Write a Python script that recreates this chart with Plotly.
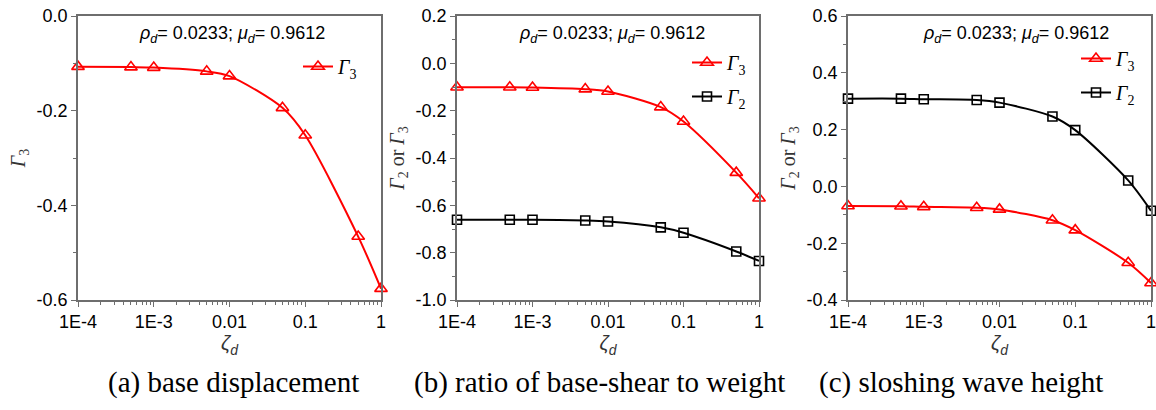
import plotly.graph_objects as go

# Damping ratio of the damper (log scale)
zeta = [1e-4, 5e-4, 1e-3, 5e-3, 0.01, 0.05, 0.1, 0.5, 1.0]

# (a) base displacement
gamma3_disp = [-0.107, -0.108, -0.109, -0.117, -0.127, -0.194, -0.252, -0.466, -0.576]
# (b) ratio of base-shear to weight
gamma3_shear = [-0.101, -0.101, -0.102, -0.109, -0.119, -0.185, -0.246, -0.462, -0.570]
gamma2_shear = [-0.661, -0.661, -0.661, -0.664, -0.668, -0.693, -0.716, -0.795, -0.835]
# (c) sloshing wave height
gamma3_wave = [-0.069, -0.070, -0.072, -0.075, -0.081, -0.119, -0.154, -0.269, -0.340]
gamma2_wave = [0.309, 0.309, 0.307, 0.304, 0.295, 0.246, 0.198, 0.021, -0.086]

x_tickvals = [1e-4, 1e-3, 0.01, 0.1, 1]
x_ticktext = ["1E-4", "1E-3", "0.01", "0.1", "1"]

y_ticks_a = [0.0, -0.2, -0.4, -0.6]
y_ticks_b = [0.2, 0.0, -0.2, -0.4, -0.6, -0.8, -1.0]
y_ticks_c = [0.6, 0.4, 0.2, 0.0, -0.2, -0.4]

captions = ["(a) base displacement", "(b) ratio of base-shear to weight",
            "(c) sloshing wave height"]
param_text = "<i>ρ</i><sub><i>d</i></sub>= 0.0233; <i>μ</i><sub><i>d</i></sub>= 0.9612"

W, H = 1156, 410
SANS = "Liberation Sans, Arial, sans-serif"
SERIF = "Liberation Serif, Times New Roman, serif"
FRAME = "#6e6e6e"

G3 = "<i>Γ</i><sub>3</sub>"
G2 = "<i>Γ</i><sub>2</sub>"

# minor ticks at 2..9 within each decade of the log axis
minor_x = [k * 10.0 ** e for e in range(-4, 0) for k in range(2, 10)]


def fmt(v):
    return f"{v:.1f}"


fig = go.Figure()


def add_series(y, name, axis_idx, kind, legend):
    sfx = "" if axis_idx == 1 else str(axis_idx)
    if kind == "tri":
        color, symbol, size = "#ff0000", "triangle-up-open", 11
    else:
        color, symbol, size = "#000000", "square-open", 9
    fig.add_trace(go.Scatter(
        x=zeta, y=y, name=name, mode="lines+markers",
        line=dict(color=color, width=2, shape="spline", smoothing=0.8),
        marker=dict(symbol=symbol, size=size, color=color,
                    line=dict(color=color, width=1.6)),
        xaxis="x" + sfx, yaxis="y" + sfx, cliponaxis=False,
        legend=legend, legendgroup=name,
    ))


add_series(gamma3_disp, G3, 1, "tri", "legend")
add_series(gamma3_shear, G3, 2, "tri", "legend2")
add_series(gamma2_shear, G2, 2, "sq", "legend2")
add_series(gamma3_wave, G3, 3, "tri", "legend3")
add_series(gamma2_wave, G2, 3, "sq", "legend3")

# plot-area boxes in pixels: (left, right)
px_x = [(78, 381), (457, 759), (848, 1151)]
top_px, bot_px = 16, 300
ydom = [1 - bot_px / H, 1 - top_px / H]
yranges = [[-0.6, 0.0], [-1.0, 0.2], [-0.4, 0.6]]
yticks = [y_ticks_a, y_ticks_b, y_ticks_c]
ytitles = [G3, G2 + " or " + G3, G2 + " or " + G3]

layout = dict(
    width=W, height=H,
    margin=dict(l=0, r=0, t=0, b=0, autoexpand=False),
    paper_bgcolor="white", plot_bgcolor="white",
    font=dict(family=SANS, size=18, color="black"),
    showlegend=True,
)

for i in range(3):
    sfx = "" if i == 0 else str(i + 1)
    l, r = px_x[i]
    layout["xaxis" + sfx] = dict(
        type="log", range=[-4, 0], domain=[l / W, r / W],
        anchor="y" + sfx, automargin=False, ticklabeloverflow="allow",
        tickvals=x_tickvals, ticktext=x_ticktext,
        ticks="outside", ticklen=5, tickwidth=1.2, tickcolor=FRAME,
        minor=dict(tickmode="array", tickvals=minor_x, ticks="outside",
                   ticklen=3, tickwidth=1, tickcolor=FRAME, showgrid=False),
        showline=True, linecolor=FRAME, linewidth=1.6, mirror=True,
        showgrid=False, zeroline=False,
        tickfont=dict(family=SANS, size=18, color="black"),
        title=dict(text="<i>ζ</i><sub><i>d</i></sub>", standoff=4,
                   font=dict(family=SANS, size=20, color="#333")),
    )
    layout["yaxis" + sfx] = dict(
        range=yranges[i], domain=ydom, anchor="x" + sfx, automargin=False,
        tickvals=yticks[i], ticktext=[fmt(v) for v in yticks[i]],
        ticks="outside", ticklen=5, tickwidth=1.2, tickcolor=FRAME,
        minor=dict(ticks="outside", ticklen=3, tickwidth=1, tickcolor=FRAME,
                   dtick=0.1, showgrid=False),
        showline=True, linecolor=FRAME, linewidth=1.6, mirror=True,
        showgrid=False, zeroline=False,
        tickfont=dict(family=SANS, size=18, color="black"),
        title=dict(text=ytitles[i], standoff=6,
                   font=dict(family=SERIF, size=20, color="#333")),
    )

legend_pos = [(298, 47), (687, 43), (1076, 39)]
for i, name in enumerate(["legend", "legend2", "legend3"]):
    lx, ly = legend_pos[i]
    layout[name] = dict(
        x=lx / W, y=1 - ly / H, xanchor="left", yanchor="top",
        bgcolor="rgba(0,0,0,0)", borderwidth=0,
        font=dict(family=SERIF, size=20, color="black"),
        tracegroupgap=5, itemwidth=30,
    )

annotations = []
param_pos = [(232, 35), (612, 35), (1016, 35)]
for px, py in param_pos:
    annotations.append(dict(
        text=param_text, x=px / W, y=1 - py / H, xref="paper", yref="paper",
        showarrow=False, xanchor="center", yanchor="middle",
        font=dict(family=SANS, size=18, color="black"),
    ))
cap_x = [233, 599, 961]
for cx, cap in zip(cap_x, captions):
    annotations.append(dict(
        text=cap, x=cx / W, y=1 - 382 / H, xref="paper", yref="paper",
        showarrow=False, xanchor="center", yanchor="middle",
        font=dict(family=SERIF, size=29, color="black"),
    ))
layout["annotations"] = annotations

fig.update_layout(**layout)
fig.write_html("out.html")
